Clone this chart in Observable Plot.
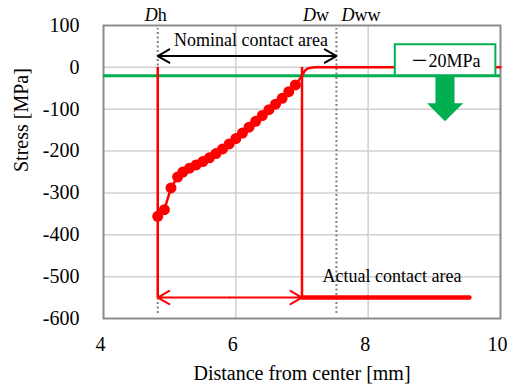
<!DOCTYPE html>
<html><head><meta charset="utf-8">
<script src="https://cdn.jsdelivr.net/npm/d3@7"></script>
<script src="https://cdn.jsdelivr.net/npm/@observablehq/plot@0.6"></script>
<style>html,body{margin:0;padding:0;background:#fff} svg{display:block}</style>
</head><body><div id="chart"></div>
<script>
// Measured stress (markers)
const distance = [4.82, 4.92, 5.02, 5.12, 5.20, 5.30, 5.40, 5.50, 5.60, 5.70, 5.80, 5.90, 6.00, 6.10, 6.20, 6.30, 6.40, 6.50, 6.60, 6.70, 6.80, 6.90];
const stress   = [-356, -340, -288, -262, -250, -241, -233, -225, -216, -206, -195, -183, -170, -157, -143, -129, -115, -101, -88, -74, -58, -42];
// Continuation of the stress curve past the last marker
const tailDistance = [6.90, 7.00, 7.05, 7.11, 7.20, 10.0];
const tailStress   = [-42, -20, -7, -1.5, 0, 0];
// Tick values
const xTicks = [4, 6, 8, 10];
const yTicks = [100, 0, -100, -200, -300, -400, -500, -600];
// Annotation values
const Dh = 4.82, Dw = 7.0, Dww = 7.52;
const actualStress = -550, actualEnd = 9.53;
const nominalStress = 27;
const threshold = -20;
const thresholdLabel = "－20MPa";
const boxX = [8.41, 9.93], boxY = [-20, 54];
const arrowX = [9.017, 9.305, 8.89, 9.16, 9.436];
const arrowY = [-20, -86, -129];

const serif = "'Liberation Serif', 'Times New Roman', 'Noto Sans CJK JP', serif";
const red = "#ff0000", green = "#00b050";

const pts = distance.map((d, i) => ({x: d, y: stress[i]}));
const tail = tailDistance.map((d, i) => ({x: d, y: tailStress[i]}));
const mid = (Dh + Dw) / 2, midN = (Dh + Dww) / 2;
const arrowPoly = [
  {x: arrowX[0], y: arrowY[0]}, {x: arrowX[1], y: arrowY[0]}, {x: arrowX[1], y: arrowY[1]},
  {x: arrowX[4], y: arrowY[1]}, {x: arrowX[3], y: arrowY[2]}, {x: arrowX[2], y: arrowY[1]},
  {x: arrowX[0], y: arrowY[1]}, {x: arrowX[0], y: arrowY[0]}
];

const chart = Plot.plot({
  width: 511, height: 387,
  marginLeft: 103, marginRight: 11, marginTop: 25, marginBottom: 69,
  style: {fontFamily: serif, fontSize: "20px", background: "white", color: "black"},
  x: {domain: [4, 10]},
  y: {domain: [-600, 100]},
  marks: [
    Plot.ruleY(yTicks.filter(v => v > -600 && v < 100), {stroke: "#d0d0d0", strokeWidth: 1.5}),
    Plot.ruleX(xTicks.filter(v => v > 4 && v < 10), {stroke: "#d0d0d0", strokeWidth: 1.5}),
    Plot.frame({stroke: "#8c8c8c", strokeWidth: 2}),
    Plot.axisX({ticks: xTicks, tickSize: 0, tickPadding: 18, dx: -3, label: null, tickFormat: d => String(d)}),
    Plot.axisY({ticks: yTicks, tickSize: 0, tickPadding: 24, label: null, tickFormat: d => String(d)}),
    Plot.ruleX([Dh, Dww], {y1: -588, y2: 93, stroke: "#808080", strokeWidth: 2, strokeDasharray: "2,2.5"}),
    Plot.ruleY([threshold], {stroke: green, strokeWidth: 3}),
    Plot.ruleX([Dh, Dw], {y1: actualStress, y2: 0, stroke: red, strokeWidth: 2.5}),
    Plot.line(tail, {x: "x", y: "y", stroke: red, strokeWidth: 2.5, curve: "monotone-x"}),
    Plot.line(pts, {x: "x", y: "y", stroke: red, strokeWidth: 2.5}),
    Plot.dot(pts, {x: "x", y: "y", r: 5.5, fill: red, stroke: "none"}),
    Plot.line([{x: Dw, y: actualStress}, {x: actualEnd, y: actualStress}], {x: "x", y: "y", stroke: red, strokeWidth: 4.5}),
    Plot.arrow([{a: mid, b: Dh}, {a: mid, b: Dw}], {x1: "a", x2: "b", y1: actualStress, y2: actualStress, stroke: red, strokeWidth: 2, headLength: 10, headAngle: 60}),
    Plot.arrow([{a: midN, b: Dh}, {a: midN, b: Dww}], {x1: "a", x2: "b", y1: nominalStress, y2: nominalStress, stroke: "black", strokeWidth: 2, headLength: 10, headAngle: 60}),
    Plot.rect([{}], {x1: boxX[0], x2: boxX[1], y1: boxY[0], y2: boxY[1], fill: "white", stroke: green, strokeWidth: 2}),
    Plot.line(arrowPoly, {x: "x", y: "y", fill: green, stroke: "none"}),
    Plot.text([thresholdLabel], {x: (boxX[0] + boxX[1]) / 2, y: 0, text: d => d, lineAnchor: "bottom", fontSize: 18, fontFamily: serif}),
    Plot.text(["Nominal contact area"], {x: 6.23, y: 52, text: d => d, lineAnchor: "bottom", fontSize: 18}),
    Plot.text(["Actual contact area"], {x: 8.36, y: -513, text: d => d, lineAnchor: "bottom", fontSize: 18}),
    // D-labels
    Plot.text(["D"], {x: Dh, frameAnchor: "top", dy: -5, text: d => d, textAnchor: "end", lineAnchor: "bottom", fontStyle: "italic", fontSize: 18}),
    Plot.text(["h"], {x: Dh, frameAnchor: "top", dy: -5, text: d => d, textAnchor: "start", lineAnchor: "bottom", fontSize: 18}),
    Plot.text(["D"], {x: Dw, frameAnchor: "top", dy: -5, dx: 1, text: d => d, textAnchor: "start", lineAnchor: "bottom", fontStyle: "italic", fontSize: 18}),
    Plot.text(["w"], {x: Dw, frameAnchor: "top", dy: -5, dx: 14, text: d => d, textAnchor: "start", lineAnchor: "bottom", fontSize: 18}),
    Plot.text(["D"], {x: Dww, frameAnchor: "top", dy: -5, dx: 5, text: d => d, textAnchor: "start", lineAnchor: "bottom", fontStyle: "italic", fontSize: 18}),
    Plot.text(["ww"], {x: Dww, frameAnchor: "top", dy: -5, dx: 18, text: d => d, textAnchor: "start", lineAnchor: "bottom", fontSize: 18}),
    // axis titles
    Plot.text(["Distance from center [mm]"], {frameAnchor: "bottom", dy: 61, text: d => d, lineAnchor: "bottom", fontSize: 20}),
    Plot.text(["Stress [MPa]"], {frameAnchor: "left", dx: -82, text: d => d, rotate: -90, lineAnchor: "middle", fontSize: 20})
  ]
});
document.getElementById("chart").appendChild(chart);
</script>
</body></html>
